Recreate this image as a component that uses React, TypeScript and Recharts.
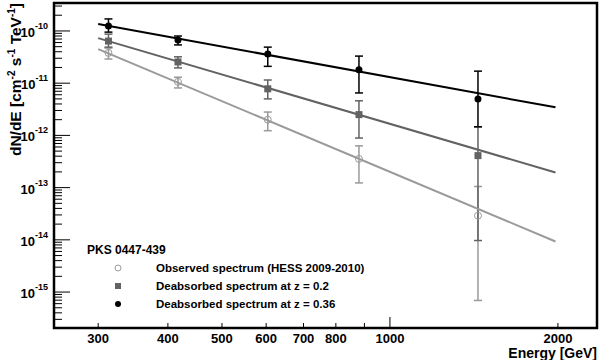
import {
  ComposedChart,
  ErrorBar,
  ReferenceArea,
  Scatter,
  XAxis,
  YAxis,
} from "recharts";

// photon energies (GeV)
const energies = [313, 417, 604, 880, 1438];

// observed spectrum (HESS 2009-2010)
const observed = [3.8e-11, 1.06e-11, 2.0e-12, 3.55e-13, 2.9e-14];
const observedLow = [2.9e-11, 8.1e-12, 1.23e-12, 1.23e-13, 6.9e-16];
const observedHigh = [4.7e-11, 1.3e-11, 2.8e-12, 6.3e-13, 1.05e-13];

// deabsorbed, z = 0.2
const deabs02 = [6.4e-11, 2.55e-11, 7.8e-12, 2.5e-12, 4.1e-13];
const deabs02Low = [4.9e-11, 1.96e-11, 5.0e-12, 8.9e-13, 9.7e-15];
const deabs02High = [8.7e-11, 3.2e-11, 1.15e-11, 4.6e-12, 1.46e-12];

// deabsorbed, z = 0.36
const deabs036 = [1.25e-10, 6.7e-11, 3.6e-11, 1.8e-11, 5.0e-12];
const deabs036Low = [9.5e-11, 5.4e-11, 2.1e-11, 6.5e-12, 1.46e-12];
const deabs036High = [1.7e-10, 8.0e-11, 4.9e-11, 3.3e-11, 1.7e-11];

// power-law fits, end points
const fitEnergy = [300, 1980];
const fitObserved = [4.5e-11, 9.3e-15];
const fitDeabs02 = [7.3e-11, 1.95e-13];
const fitDeabs036 = [1.36e-10, 3.45e-12];

const xDomain = [250, 2350];
const yDomain = [2.05e-16, 3.43e-10];
const xTicks = [300, 400, 500, 600, 700, 800, 900, 1000, 2000];
const xLabeled = [300, 400, 500, 600, 700, 800, 1000, 2000];
const yDecades = [-16, -15, -14, -13, -12, -11, -10];
const yMult = [1, 2, 3, 4, 5, 6, 7, 8, 9];

const FONT = "'Liberation Sans', Arial, Helvetica, sans-serif";
const LIGHT = "#9a9a9a";
const DARK = "#626262";

const yTicks = yDecades
  .flatMap((d) => yMult.map((m) => m * Math.pow(10, d)))
  .filter((v) => v > yDomain[0] * 1.01 && v < yDomain[1]);

const points = (ys: number[], lo: number[], hi: number[]) =>
  energies.map((e, i) => ({ e, y: ys[i], err: [ys[i] - lo[i], hi[i] - ys[i]] }));
const fit = (ys: number[]) => fitEnergy.map((e, i) => ({ e, y: ys[i] }));

const obsPts = points(observed, observedLow, observedHigh);
const z02Pts = points(deabs02, deabs02Low, deabs02High);
const z036Pts = points(deabs036, deabs036Low, deabs036High);

function YTick({ x, y, payload }: any) {
  const v = payload.value;
  const exp = Math.round(Math.log10(v));
  const major = Math.abs(v - Math.pow(10, exp)) / v < 1e-6;
  return (
    <g>
      <line x1={x} x2={x + (major ? 16 : 8)} y1={y} y2={y} stroke="#000" strokeWidth={1} />
      {major && (
        <text x={x - 6} y={y + 6} textAnchor="end" fontFamily={FONT} fontWeight="bold" fontSize={13} fill="#000">
          10
          <tspan dy={-8} fontSize={9}>
            {exp}
          </tspan>
        </text>
      )}
    </g>
  );
}

function XTick({ x, y, payload }: any) {
  const v = payload.value;
  const major = v === 1000;
  return (
    <g>
      <line x1={x} x2={x} y1={y} y2={y - (major ? 11 : 5)} stroke="#000" strokeWidth={1} />
      {xLabeled.includes(v) && (
        <text x={x} y={y + 15} textAnchor="middle" fontFamily={FONT} fontWeight="bold" fontSize={13} fill="#000">
          {v}
        </text>
      )}
    </g>
  );
}

const dot = (color: string) => (p: any) => <circle cx={p.cx} cy={p.cy} r={3.5} fill={color} />;
const square = (color: string) => (p: any) => (
  <rect x={p.cx - 3.5} y={p.cy - 3.5} width={7} height={7} fill={color} />
);
const ring = (color: string) => (p: any) => (
  <circle cx={p.cx} cy={p.cy} r={3.5} fill="#fff" fillOpacity={0} stroke={color} strokeWidth={1} />
);
const none = () => <g />;

function Legend() {
  const rows = [
    { label: "Observed spectrum (HESS 2009-2010)", m: <circle cx={5} cy={5} r={3} fill="none" stroke={LIGHT} /> },
    { label: "Deabsorbed spectrum at z = 0.2", m: <rect x={2} y={2} width={6} height={6} fill={DARK} /> },
    { label: "Deabsorbed spectrum at z = 0.36", m: <circle cx={5} cy={5} r={3} fill="#000" /> },
  ];
  return (
    <div style={{ position: "absolute", left: 87, top: 241, fontFamily: FONT, fontWeight: "bold", fontSize: 11.5 }}>
      <div style={{ height: 18, lineHeight: "18px", fontSize: 12 }}>PKS 0447-439</div>
      {rows.map((r) => (
        <div key={r.label} style={{ display: "flex", alignItems: "center", height: 18 }}>
          <svg width={10} height={10} style={{ marginLeft: 26, marginRight: 33 }}>
            {r.m}
          </svg>
          <span>{r.label}</span>
        </div>
      ))}
    </div>
  );
}

export default function App() {
  return (
    <div style={{ position: "absolute", left: 0, top: 0, width: 600, height: 360, background: "#fff" }}>
      <ComposedChart width={600} height={360} margin={{ top: 3, right: 3, bottom: 0, left: 0 }}>
        <XAxis
          dataKey="e"
          type="number"
          scale="log"
          domain={xDomain}
          allowDataOverflow
          ticks={xTicks}
          interval={0}
          tick={<XTick />}
          tickLine={false}
          tickSize={0}
          tickMargin={0}
          height={32}
          axisLine={{ stroke: "#000", strokeWidth: 2 }}
        />
        <YAxis
          dataKey="y"
          type="number"
          scale="log"
          domain={yDomain}
          allowDataOverflow
          ticks={yTicks}
          interval={0}
          tick={<YTick />}
          tickLine={false}
          tickSize={0}
          tickMargin={0}
          width={54}
          axisLine={{ stroke: "#000", strokeWidth: 2 }}
        />
        <ReferenceArea
          x1={xDomain[0]}
          x2={xDomain[1]}
          y1={yDomain[0]}
          y2={yDomain[1]}
          fill="none"
          stroke="#000"
          strokeWidth={2.5}
          ifOverflow="visible"
        />
        <Scatter data={fit(fitObserved)} line={{ stroke: LIGHT, strokeWidth: 2 }} shape={none} isAnimationActive={false} />
        <Scatter data={fit(fitDeabs02)} line={{ stroke: DARK, strokeWidth: 2 }} shape={none} isAnimationActive={false} />
        <Scatter data={fit(fitDeabs036)} line={{ stroke: "#000", strokeWidth: 2 }} shape={none} isAnimationActive={false} />
        <Scatter data={obsPts} shape={ring(LIGHT)} isAnimationActive={false}>
          <ErrorBar dataKey="err" direction="y" width={4} stroke={LIGHT} strokeWidth={1.5} isAnimationActive={false} />
        </Scatter>
        <Scatter data={z02Pts} shape={square(DARK)} isAnimationActive={false}>
          <ErrorBar dataKey="err" direction="y" width={4} stroke={DARK} strokeWidth={1.5} isAnimationActive={false} />
        </Scatter>
        <Scatter data={z036Pts} shape={dot("#000")} isAnimationActive={false}>
          <ErrorBar dataKey="err" direction="y" width={4} stroke="#000" strokeWidth={1.5} isAnimationActive={false} />
        </Scatter>
      </ComposedChart>
      <svg width={30} height={190} style={{ position: "absolute", left: 0, top: 0 }}>
        <text
          transform="translate(21,3) rotate(-90)"
          textAnchor="end"
          fontFamily={FONT}
          fontWeight="bold"
          fontSize={15.5}
          fill="#000"
        >
          dN/dE [cm
          <tspan dy={-6} fontSize={10}>-2</tspan>
          <tspan dy={6}> s</tspan>
          <tspan dy={-6} fontSize={10}>-1</tspan>
          <tspan dy={6}> TeV</tspan>
          <tspan dy={-6} fontSize={10}>-1</tspan>
          <tspan dy={6}>]</tspan>
        </text>
      </svg>
      <div
        style={{
          position: "absolute",
          right: 3,
          top: 346,
          fontFamily: FONT,
          fontWeight: "bold",
          fontSize: 14,
          lineHeight: "14px",
        }}
      >
        Energy [GeV]
      </div>
      <Legend />
    </div>
  );
}
